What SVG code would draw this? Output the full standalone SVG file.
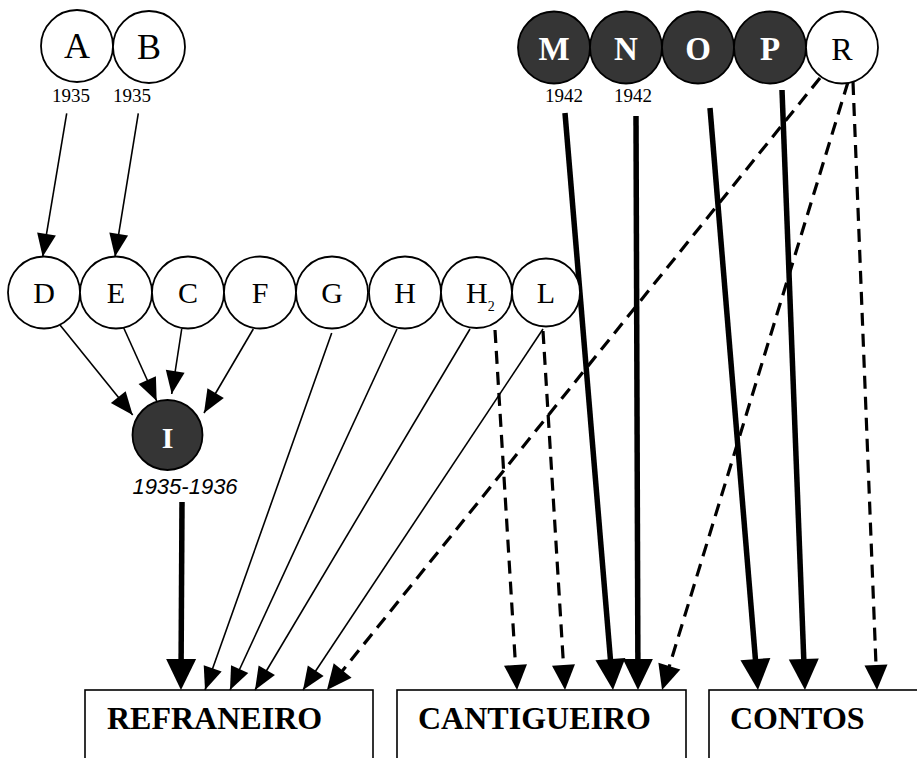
<svg xmlns="http://www.w3.org/2000/svg" width="917" height="758" viewBox="0 0 917 758">
<style>
.c{fill:#fff;stroke:#000;stroke-width:1.8}
.d{fill:#353535;stroke:#000;stroke-width:1.8}
.t{font-family:"Liberation Serif","Times New Roman",serif;fill:#000;text-anchor:middle}
.tb{font-family:"Liberation Serif","Times New Roman",serif;font-weight:bold;fill:#fff;text-anchor:middle}
.yr{font-family:"Liberation Serif","Times New Roman",serif;font-size:19px;fill:#000;text-anchor:middle}
.box{fill:#fff;stroke:#000;stroke-width:1.6}
.bt{font-family:"Liberation Serif","Times New Roman",serif;font-weight:bold;font-size:32px;fill:#000}
.thin{fill:none;stroke:#000;stroke-width:1.6;marker-end:url(#ah)}
.dash{fill:none;stroke:#000;stroke-width:3.2;stroke-dasharray:13 8;marker-end:url(#ad)}
.thick{fill:none;stroke:#000;stroke-width:5.5;marker-end:url(#ak)}
</style>
<defs>
<marker id="ah" markerUnits="userSpaceOnUse" markerWidth="24" markerHeight="20" refX="23" refY="9.5" orient="auto" overflow="visible"><path d="M0,0 L23,9.5 L0,19 z" fill="#000"/></marker>
<marker id="ad" markerUnits="userSpaceOnUse" markerWidth="26" markerHeight="24" refX="5" refY="11.5" orient="auto" overflow="visible"><path d="M0,0 L25,11.5 L0,23 z" fill="#000"/></marker>
<marker id="ak" markerUnits="userSpaceOnUse" markerWidth="32" markerHeight="31" refX="6" refY="15" orient="auto" overflow="visible"><path d="M0,0 L31,15 L0,30 z" fill="#000"/></marker>
</defs>

<g id="box-refraneiro"><rect class="box" x="85" y="690" width="288" height="80"/><text class="bt" x="107" y="729">REFRANEIRO</text></g>
<g id="box-cantigueiro"><rect class="box" x="397" y="690" width="289" height="80"/><text class="bt" x="418" y="729">CANTIGUEIRO</text></g>
<g id="box-contos"><rect class="box" x="709" y="690" width="220" height="80"/><text class="bt" x="730" y="729">CONTOS</text></g>

<g id="connectors">
<path class="thin" d="M66.7,113.3 L42.7,256.7"/>
<path class="thin" d="M138.3,113.3 L115,256.7"/>
<path class="thin" d="M60,325 L132.7,415"/>
<path class="thin" d="M123.3,327 L156.7,401"/>
<path class="thin" d="M181.7,329 L171.7,394"/>
<path class="thin" d="M253.3,329 L204,413"/>
<path class="thin" d="M331.7,333 L205,690"/>
<path class="thin" d="M397,329 L230,690"/>
<path class="thin" d="M470,329 L255,690"/>
<path class="thin" d="M543,329 L303,690"/>
<path class="dash" d="M820,78 L339.5,674.4"/>
<path class="dash" d="M495,330 L515.8,670"/>
<path class="dash" d="M543,331 L563.8,670"/>
<path class="dash" d="M848,82 L667.9,670.9"/>
<path class="dash" d="M853,82 L876.2,670"/>
<path class="thick" d="M182,502 L181.1,665"/>
<path class="thick" d="M565,113 L610.9,665.1"/>
<path class="thick" d="M636,116 L637.9,665"/>
<path class="thick" d="M710,108 L755.9,665.1"/>
<path class="thick" d="M782,90 L804,665"/>
</g>

<g id="node-A"><circle class="c" cx="77" cy="46" r="36"/><text class="t" x="77" y="57.5" font-size="36">A</text><text class="yr" x="71" y="101.5">1935</text></g>
<g id="node-B"><circle class="c" cx="149" cy="47" r="36"/><text class="t" x="149" y="58.5" font-size="36">B</text><text class="yr" x="132" y="101.5">1935</text></g>

<g id="node-M"><circle class="d" cx="554" cy="47.5" r="36"/><text class="tb" x="554" y="60" font-size="33">M</text><text class="yr" x="564" y="101.5">1942</text></g>
<g id="node-N"><circle class="d" cx="626" cy="47.5" r="36"/><text class="tb" x="626" y="60" font-size="33">N</text><text class="yr" x="633" y="101.5">1942</text></g>
<g id="node-O"><circle class="d" cx="698" cy="47.5" r="36"/><text class="tb" x="698" y="60" font-size="33">O</text></g>
<g id="node-P"><circle class="d" cx="770" cy="47.5" r="36"/><text class="tb" x="770" y="60" font-size="33">P</text></g>
<g id="node-R"><circle class="c" cx="842" cy="47.5" r="36"/><text class="t" x="842" y="60" font-size="32">R</text></g>

<g id="node-D"><circle class="c" cx="44" cy="292.5" r="36"/><text class="t" x="44" y="303" font-size="30">D</text></g>
<g id="node-E"><circle class="c" cx="116" cy="292.5" r="36"/><text class="t" x="116" y="303" font-size="30">E</text></g>
<g id="node-C"><circle class="c" cx="188" cy="292.5" r="36"/><text class="t" x="188" y="303" font-size="30">C</text></g>
<g id="node-F"><circle class="c" cx="260" cy="292.5" r="36"/><text class="t" x="260" y="303" font-size="30">F</text></g>
<g id="node-G"><circle class="c" cx="332" cy="292.5" r="36"/><text class="t" x="332" y="303" font-size="30">G</text></g>
<g id="node-H"><circle class="c" cx="405" cy="292.5" r="36"/><text class="t" x="405" y="303" font-size="30">H</text></g>
<g id="node-H2"><circle class="c" cx="476.5" cy="292.5" r="35.5"/><text class="t" x="466" y="303" font-size="30" style="text-anchor:start">H<tspan font-size="14" dy="8">2</tspan></text></g>
<g id="node-L"><circle class="c" cx="546" cy="292.5" r="34"/><text class="t" x="546" y="303" font-size="30">L</text></g>

<g id="node-I"><circle class="d" cx="167.5" cy="435" r="35"/><text class="tb" x="167.5" y="448" font-size="30">I</text><text x="185" y="494" font-family="'Liberation Sans',Arial,sans-serif" font-style="italic" font-size="22" text-anchor="middle">1935-1936</text></g>
</svg>
